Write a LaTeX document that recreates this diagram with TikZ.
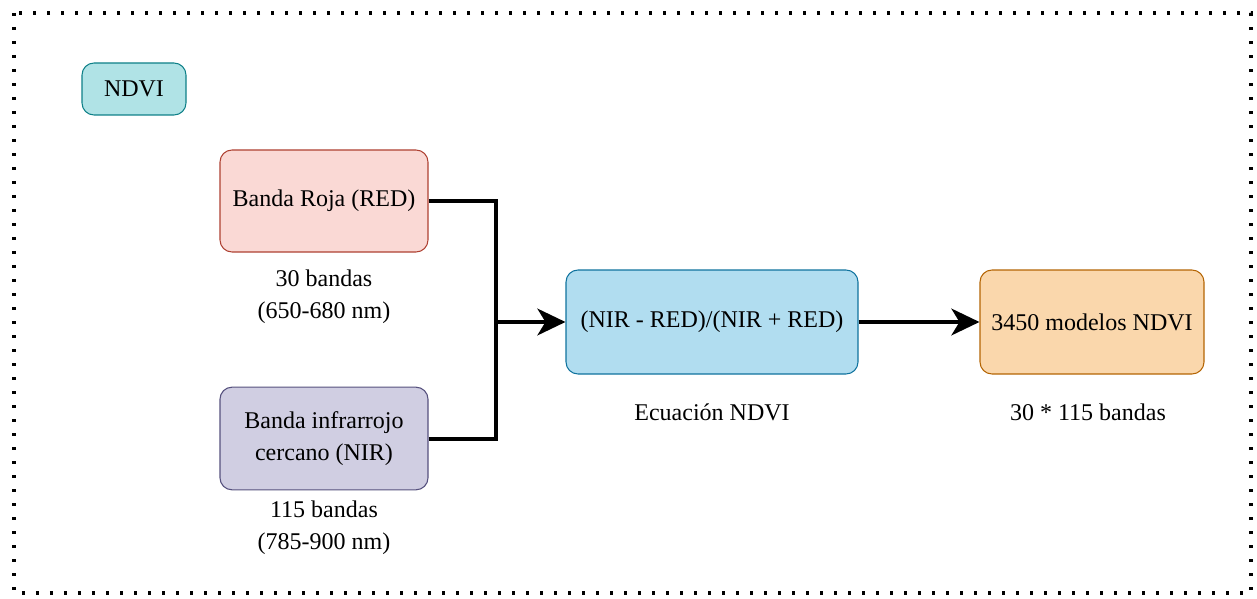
\documentclass[tikz,border=0pt]{standalone}
\usepackage{fontspec}
\setmainfont{Liberation Serif}
\usetikzlibrary{arrows.meta, positioning, calc}

\definecolor{ndvifill}{HTML}{B0E3E6}
\definecolor{ndvidraw}{HTML}{0E8088}
\definecolor{redfill}{HTML}{FAD9D5}
\definecolor{reddraw}{HTML}{AE4132}
\definecolor{nirfill}{HTML}{D0CEE2}
\definecolor{nirdraw}{HTML}{56517E}
\definecolor{eqfill}{HTML}{B1DDF0}
\definecolor{eqdraw}{HTML}{10739E}
\definecolor{outfill}{HTML}{FAD7AC}
\definecolor{outdraw}{HTML}{B46504}

\tikzset{
  box/.style={draw, rectangle, rounded corners=9pt, line width=0.8pt, align=center},
  lbl/.style={align=center, inner sep=0pt},
  link/.style={line width=3pt}
}

\begin{document}
\begin{tikzpicture}[x=0.75pt, y=-0.75pt, font=\fontsize{18}{24}\selectfont]
\useasboundingbox (0,0) rectangle (1257,599);
\draw[line width=2.4pt, dash pattern=on 2.4pt off 8.1pt] (14,13) rectangle (1251,593);
\node (ndvi) at (134,89) [box, fill=ndvifill, draw=ndvidraw, minimum width=78pt, minimum height=39pt] {NDVI};
\node (red) at (324,201) [box, fill=redfill, draw=reddraw, minimum width=156pt, minimum height=76.5pt] {Banda Roja (RED)};
\node (nir) at (324,438.5) [box, fill=nirfill, draw=nirdraw, minimum width=156pt, minimum height=77pt] {Banda infrarrojo\\cercano (NIR)};
\node (eq) at (712,322) [box, fill=eqfill, draw=eqdraw, minimum width=219pt, minimum height=78pt] {(NIR - RED)/(NIR + RED)};
\node (out) at (1092,322) [box, fill=outfill, draw=outdraw, minimum width=168pt, minimum height=78pt] {3450 modelos NDVI};
\node (redlbl) at (324,297) [lbl] {30 bandas\\(650-680 nm)};
\node (nirlbl) at (324,528) [lbl] {115 bandas\\(785-900 nm)};
\node (eqlbl) at (712,412) [lbl] {Ecuación NDVI};
\node (outlbl) at (1088,412) [lbl] {30 * 115 bandas};
\coordinate (j) at (496,322);
\draw [link] (red.east) -| (j);
\draw [link] (nir.east) -| (j);
\draw [link, -{Stealth[length=21pt, width=20pt, inset=6pt]}] (j) -- (eq.west);
\draw [link, -{Stealth[length=21pt, width=20pt, inset=6pt]}] (eq.east) -- (out.west);
\end{tikzpicture}
\end{document}
